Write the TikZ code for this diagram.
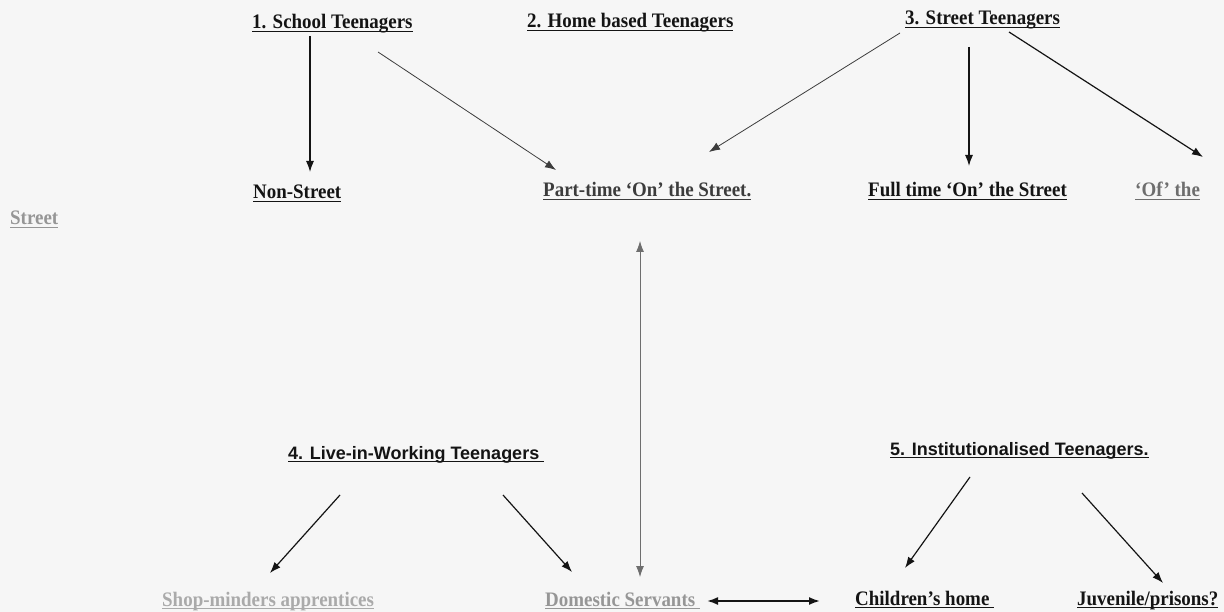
\documentclass[tikz,border=0pt]{standalone}
\usepackage{fontspec}
\usepackage{graphicx}
\setmainfont{Liberation Serif}
\setsansfont{Liberation Sans}
\usetikzlibrary{arrows.meta}
\definecolor{bg}{RGB}{246,246,246}
\definecolor{ink}{RGB}{20,20,20}
\definecolor{dgray}{RGB}{60,60,60}
\definecolor{mgray}{RGB}{110,110,110}
\definecolor{lgray}{RGB}{150,150,150}
\definecolor{llgray}{RGB}{170,170,170}
\newcommand\ulx[1]{\scalebox{0.92}[1]{\setbox0\hbox{#1}\rlap{\rule[-3.4pt]{\wd0}{1.7pt}}\box0}}
\newcommand\uls[1]{\setbox0\hbox{#1}\rlap{\rule[-3.4pt]{\wd0}{1.7pt}}\box0}
\begin{document}
\begin{tikzpicture}[x=1pt,y=-1pt,
  lbl/.style={anchor=base west, inner sep=0pt, text=ink, font=\fontsize{20.6}{24}\selectfont\bfseries},
  slbl/.style={anchor=base west, inner sep=0pt, text=ink, font=\sffamily\fontsize{18}{21}\selectfont\bfseries},
  arr/.style={-{Latex[length=11pt,width=8pt]}, line width=1.2pt, draw=ink},
  tarr/.style={-{Latex[length=11pt,width=8pt]}, line width=0.8pt, draw=dgray},
  darr/.style={{Latex[length=11pt,width=8pt]}-{Latex[length=11pt,width=8pt]}, line width=0.8pt, draw=mgray},
  harr/.style={{Latex[length=11pt,width=8pt]}-{Latex[length=11pt,width=8pt]}, line width=1.8pt, draw=ink}]
\useasboundingbox (0,0) rectangle (1224,612);
\fill[bg] (0,0) rectangle (1224,612);

% labels
\node[lbl] (school) at (252,29) {\ulx{1. School Teenagers}};
\node[lbl] (home) at (527,28) {\ulx{2. Home based Teenagers}};
\node[lbl] (street) at (905,25) {\ulx{3. Street Teenagers}};
\node[lbl] (nonstreet) at (253,199) {\ulx{Non-Street}};
\node[lbl, text=lgray] (streetl) at (10,225) {\ulx{Street}};
\node[lbl, text=dgray] (part) at (543,197) {\ulx{Part-time ‘On’ the Street.}};
\node[lbl] (full) at (868,197) {\ulx{Full time ‘On’ the Street}};
\node[lbl, text=mgray] (of) at (1135,197) {\ulx{‘Of’ the}};
\node[slbl] (live) at (288,459) {\uls{4. Live-in-Working Teenagers\ }};
\node[slbl] (inst) at (890,455) {\uls{5. Institutionalised Teenagers.}};
\node[lbl, text=llgray] (shop) at (162,606) {\ulx{Shop-minders apprentices}};
\node[lbl, text=lgray] (dom) at (545,606) {\ulx{Domestic Servants\ }};
\node[lbl] (child) at (855,605) {\ulx{Children’s home\ }};
\node[lbl] (juv) at (1077,605) {\ulx{Juvenile/prisons?}};

% arrow end points
\coordinate (s1) at (310,36);   \coordinate (e1) at (310,172);
\coordinate (s2) at (378,52);   \coordinate (e2) at (556,170);
\coordinate (s3) at (900,33);   \coordinate (e3) at (709,152);
\coordinate (s4) at (969,47);   \coordinate (e4) at (969,166);
\coordinate (s5) at (1009,32);  \coordinate (e5) at (1203,157);
\coordinate (s6) at (640,241);  \coordinate (e6) at (640,577);
\coordinate (s7) at (340,495);  \coordinate (e7) at (270,573);
\coordinate (s8) at (503,495);  \coordinate (e8) at (572,572);
\coordinate (s9) at (970,477);  \coordinate (e9) at (905,568);
\coordinate (s10) at (1082,493);\coordinate (e10) at (1163,583);
\coordinate (s11) at (707,601); \coordinate (e11) at (820,601);

\draw[arr] (s1) -- (e1);
\draw[tarr] (s2) -- (e2);
\draw[tarr] (s3) -- (e3);
\draw[arr] (s4) -- (e4);
\draw[arr] (s5) -- (e5);
\draw[darr] (s6) -- (e6);
\draw[arr] (s7) -- (e7);
\draw[arr] (s8) -- (e8);
\draw[arr] (s9) -- (e9);
\draw[arr] (s10) -- (e10);
\draw[harr] (s11) -- (e11);
\end{tikzpicture}
\end{document}
